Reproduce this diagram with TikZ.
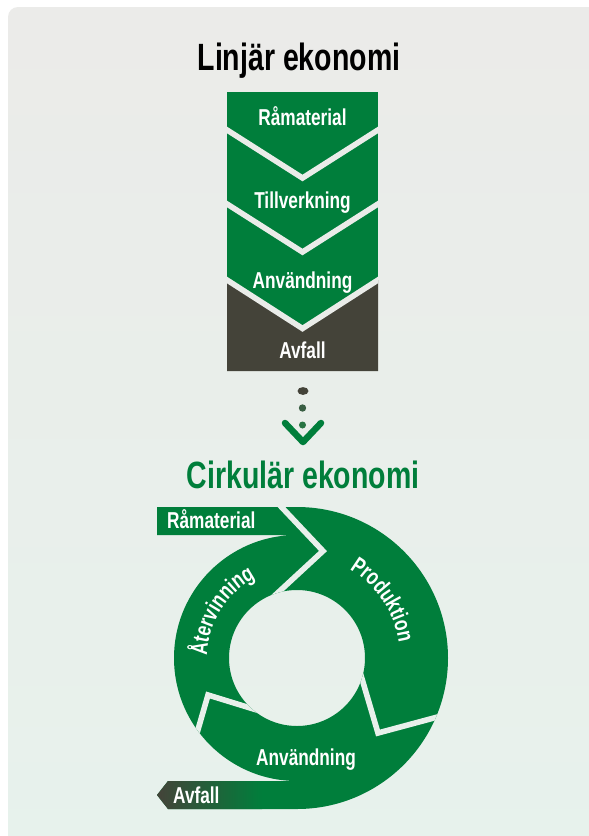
\documentclass[tikz,border=0pt]{standalone}
\usepackage{fontspec}
\newfontfamily\condb[FakeStretch=0.75]{Liberation Sans Bold}
\usetikzlibrary{decorations.text}
\definecolor{cgreen}{RGB}{0,126,59}
\definecolor{cdark}{RGB}{68,67,57}
\definecolor{bgtop}{RGB}{235,235,233}
\definecolor{bgbot}{RGB}{231,242,236}
\definecolor{sepA}{RGB}{234,236,233}
\definecolor{sepB}{RGB}{232,240,235}
\definecolor{dottwo}{RGB}{58,95,68}
\definecolor{dotthree}{RGB}{40,115,66}
\begin{document}
\begin{tikzpicture}[x=1pt,y=-1pt,
  lbl/.style={font=\condb\fontsize{23}{23}\selectfont, text=white, inner sep=0pt},
  ttl/.style={font=\condb\fontsize{38}{38}\selectfont, inner sep=0pt},
  seplin/.style={line width=5.6pt, line join=miter},
  curvetext/.style={decorate, decoration={text along path, text align=center, text={|\condb\fontsize{23}{23}\selectfont\color{white}|#1}}}]
\clip (0,0) rectangle (589,836);
\fill[white] (0,0) rectangle (589,836);
\shade[top color=bgtop, bottom color=bgbot, rounded corners=10pt] (8,7) rectangle (620,870);

% ---- linear economy ----
\node[ttl, text=black, anchor=base] (t1) at (299,70) {Linjär ekonomi};
\fill[cgreen] (227,92) rectangle (378,371);
\fill[cdark] (227,280) -- (302.5,328.5) -- (378,280) -- (378,371) -- (227,371) -- cycle;
\begin{scope}
  \clip (227,92) rectangle (378,371);
  \draw[sepA, seplin] (220,125.5) -- (302.5,178) -- (385,125.5);
  \draw[sepA, seplin] (220,199.5) -- (302.5,252) -- (385,199.5);
  \draw[sepA, seplin] (220,275.5) -- (302.5,328.5) -- (385,275.5);
\end{scope}
\node[lbl, anchor=base] (l1) at (302.5,125) {Råmaterial};
\node[lbl, anchor=base] (l2) at (302.5,208) {Tillverkning};
\node[lbl, anchor=base] (l3) at (302.5,288) {Användning};
\node[lbl, anchor=base] (l4) at (302.5,358) {Avfall};

% ---- dots and chevron ----
\fill[cdark] (303,391) ellipse[x radius=5.5, y radius=3.9];
\fill[dottwo] (302.5,408) circle[radius=3.7];
\fill[dotthree] (302.5,425) circle[radius=3.5];
\draw[cgreen, line width=6.5pt, line cap=round, line join=round] (285,423) -- (303,442) -- (321,423);

% ---- circular economy ----
\node[ttl, text=cgreen, anchor=base] (t2) at (303,488) {Cirkulär ekonomi};
\def\ringpath{(157,507) -- (297,507) arc[start angle=-90,end angle=90,radius=151] -- (168,809) -- (157,795) -- (168,781) -- (297,781) arc[start angle=90,end angle=270,radius=123] -- (157,535) -- cycle (297,658) circle[radius=68]}
\fill[cgreen, even odd rule] \ringpath;
\shade[left color=cdark, right color=cgreen] (168,781) -- (157,795) -- (168,809) -- (262,809) -- (262,781) -- cycle;
\begin{scope}[even odd rule]
  \clip \ringpath;
  \draw[sepB, seplin] (272,497) -- (323,551) -- (270,600);
  \draw[sepB, seplin] (360,672) -- (378,733) -- (445,715);
  \draw[sepB, seplin] (195,740) -- (208,695) -- (260,711);
\end{scope}
\path[curvetext=Produktion] (297,658) ++(-90:103) arc[start angle=-90, end angle=22, radius=103];
\path[curvetext=Återvinning] (297,658) ++(156:90) arc[start angle=156, end angle=268, radius=90];
\node[lbl, anchor=base west] (c1) at (167,528) {Råmaterial};
\node[lbl, anchor=base] (c2) at (306,765) {Användning};
\node[lbl, anchor=base west] (c3) at (173,803) {Avfall};
\end{tikzpicture}
\end{document}
